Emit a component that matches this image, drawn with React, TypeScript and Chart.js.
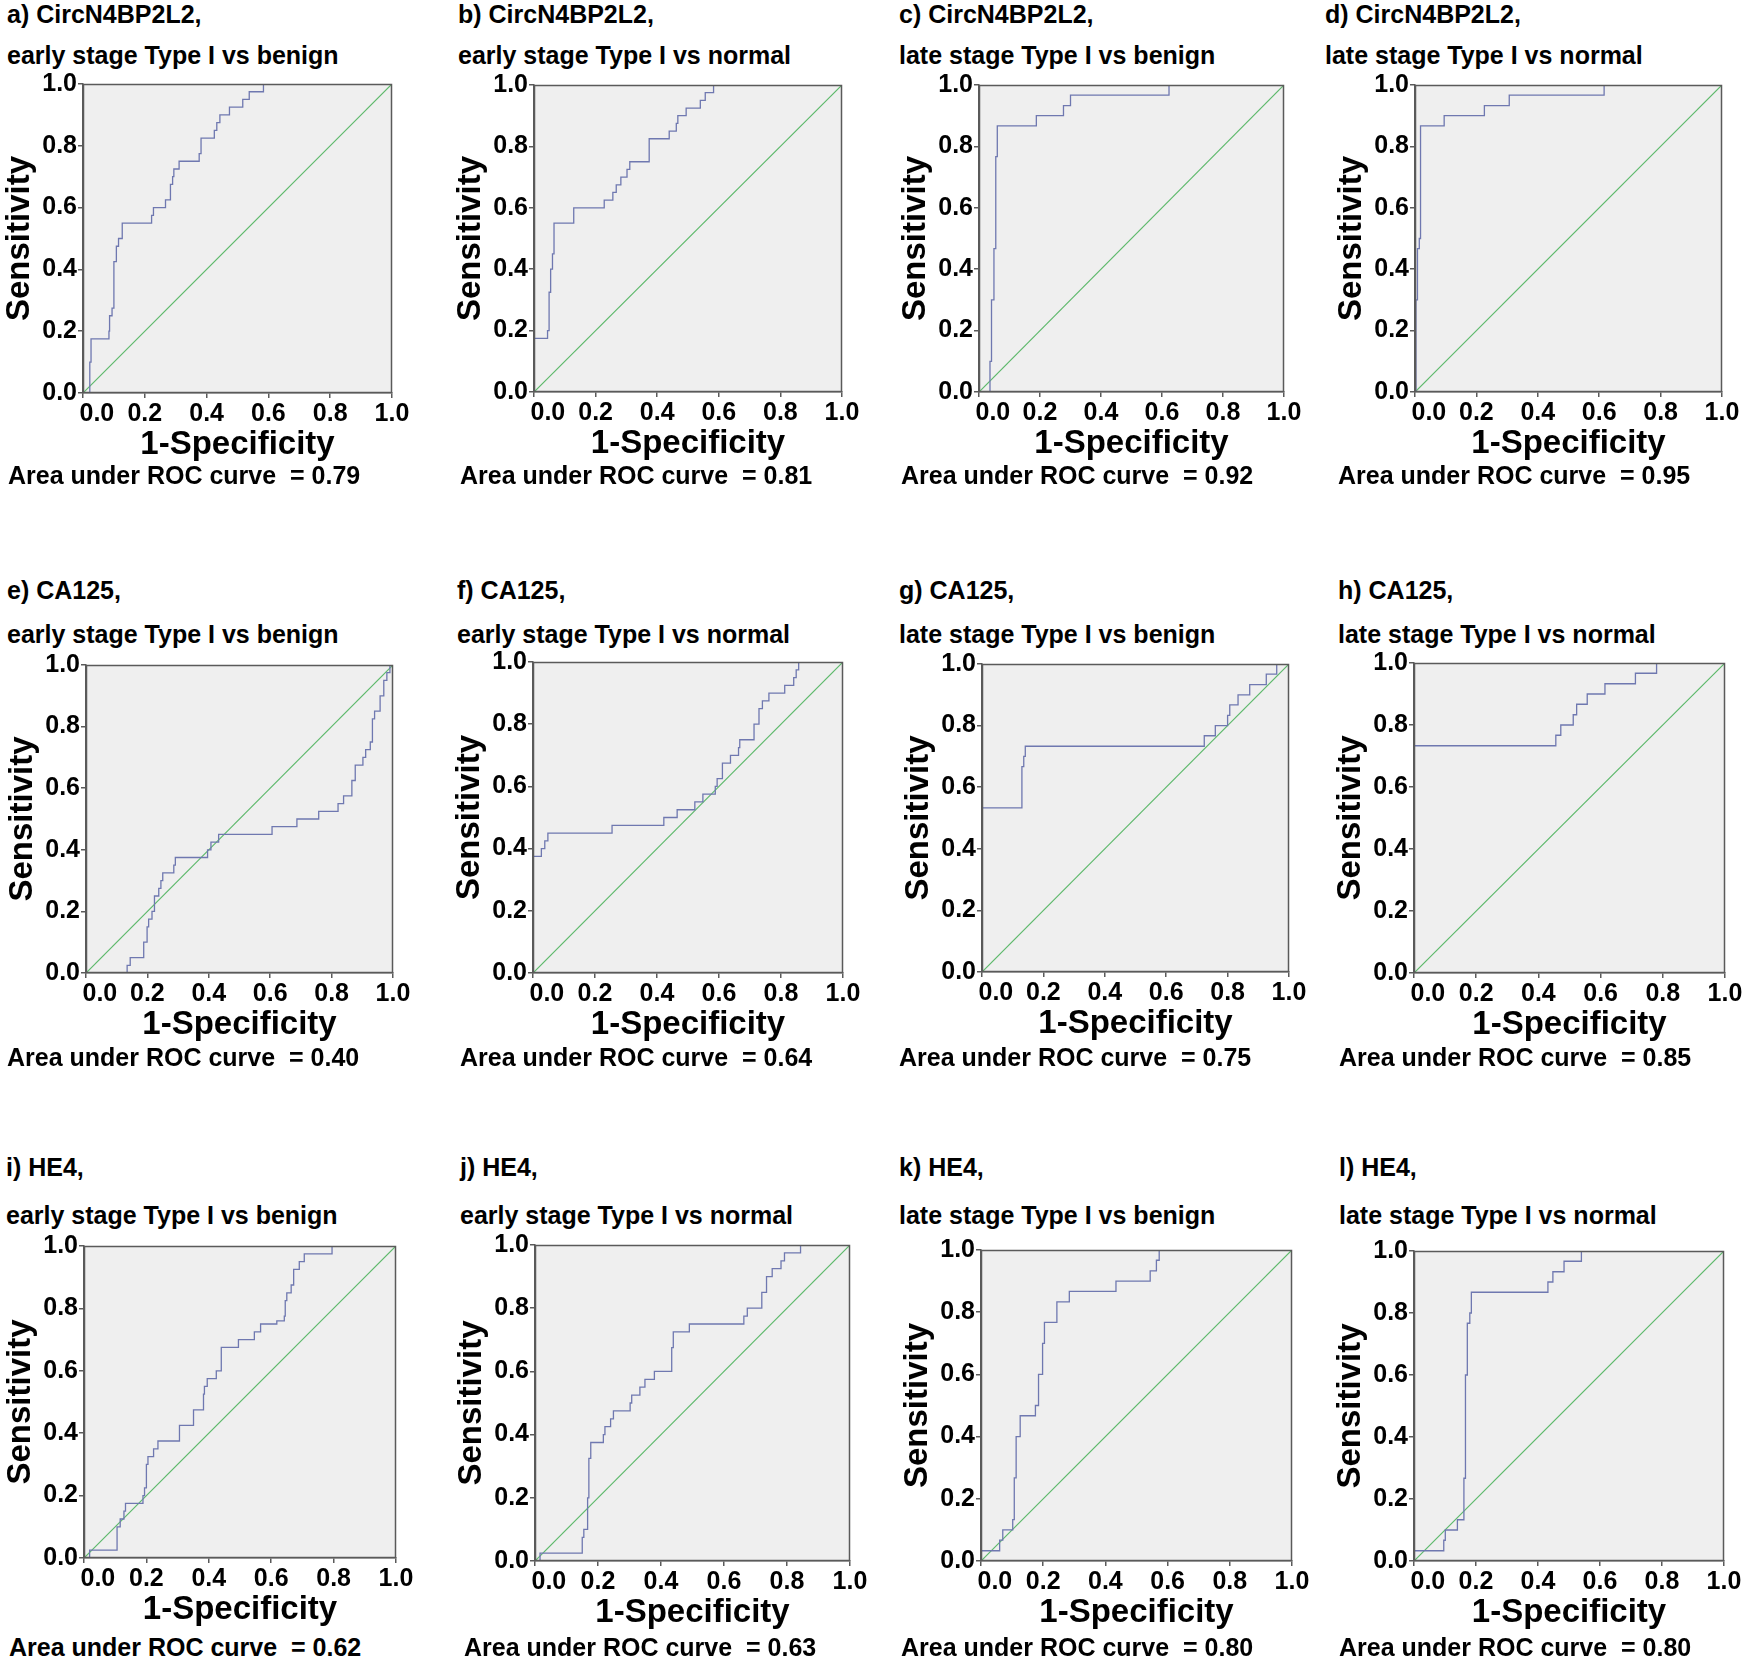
import React, { useEffect, useRef } from 'react';
import { Chart, registerables } from 'chart.js';

Chart.register(...registerables);

// ---------- DATA ----------
const panelLetters = ['a', 'b', 'c', 'd', 'e', 'f', 'g', 'h', 'i', 'j', 'k', 'l'];
const markers = [
  'CircN4BP2L2', 'CircN4BP2L2', 'CircN4BP2L2', 'CircN4BP2L2',
  'CA125', 'CA125', 'CA125', 'CA125',
  'HE4', 'HE4', 'HE4', 'HE4',
];
const comparisons = [
  'early stage Type I vs benign', 'early stage Type I vs normal', 'late stage Type I vs benign', 'late stage Type I vs normal',
  'early stage Type I vs benign', 'early stage Type I vs normal', 'late stage Type I vs benign', 'late stage Type I vs normal',
  'early stage Type I vs benign', 'early stage Type I vs normal', 'late stage Type I vs benign', 'late stage Type I vs normal',
];
const aucValues = ['0.79', '0.81', '0.92', '0.95', '0.40', '0.64', '0.75', '0.85', '0.62', '0.63', '0.80', '0.80'];
const tickLabels = ['0.0', '0.2', '0.4', '0.6', '0.8', '1.0'];
const xAxisTitle = '1-Specificity';
const yAxisTitle = 'Sensitivity';
const aucLabel = 'Area under ROC curve  = ';

// ROC curves: 1-specificity (x) at which sensitivity jumps to y
const aX = [0.022, 0.022, 0.026, 0.084, 0.086, 0.094, 0.1, 0.108, 0.115, 0.127, 0.222, 0.228, 0.267, 0.283, 0.29, 0.294, 0.311, 0.376, 0.382, 0.425, 0.433, 0.443, 0.474, 0.517, 0.538, 0.584, 1.0];
const aY = [0, 0.1, 0.175, 0.2, 0.25, 0.275, 0.425, 0.475, 0.5, 0.55, 0.575, 0.6, 0.625, 0.675, 0.7, 0.725, 0.75, 0.775, 0.825, 0.85, 0.875, 0.9, 0.925, 0.95, 0.975, 1.0, 1.0];

const bX = [0, 0, 0.044, 0.049, 0.054, 0.06, 0.065, 0.129, 0.228, 0.256, 0.267, 0.282, 0.302, 0.311, 0.374, 0.439, 0.462, 0.467, 0.494, 0.54, 0.556, 0.583, 1.0];
const bY = [0, 0.175, 0.2, 0.325, 0.4, 0.45, 0.55, 0.6, 0.625, 0.65, 0.675, 0.7, 0.725, 0.75, 0.825, 0.85, 0.875, 0.9, 0.925, 0.95, 0.975, 1.0, 1.0];

const cX = [0.036, 0.036, 0.041, 0.049, 0.055, 0.06, 0.188, 0.277, 0.3, 0.623, 1.0];
const cY = [0, 0.1, 0.3, 0.467, 0.767, 0.867, 0.9, 0.933, 0.967, 1.0, 1.0];

const dX = [0.003, 0.003, 0.008, 0.014, 0.018, 0.095, 0.226, 0.307, 0.616, 1.0];
const dY = [0, 0.3, 0.467, 0.5, 0.867, 0.9, 0.933, 0.967, 1.0, 1.0];

const eX = [0.134, 0.134, 0.144, 0.188, 0.199, 0.204, 0.215, 0.223, 0.237, 0.244, 0.25, 0.286, 0.291, 0.396, 0.407, 0.432, 0.606, 0.687, 0.758, 0.821, 0.839, 0.866, 0.877, 0.902, 0.911, 0.926, 0.933, 0.94, 0.958, 0.97, 0.98, 0.99, 1.0];
const eY = [0, 0.025, 0.05, 0.1, 0.15, 0.175, 0.2, 0.25, 0.275, 0.3, 0.325, 0.35, 0.375, 0.4, 0.425, 0.45, 0.475, 0.5, 0.525, 0.55, 0.575, 0.625, 0.675, 0.7, 0.725, 0.75, 0.825, 0.85, 0.9, 0.95, 0.975, 1.0, 1.0];

const fX = [0, 0, 0.027, 0.038, 0.048, 0.255, 0.422, 0.465, 0.522, 0.548, 0.588, 0.594, 0.611, 0.637, 0.663, 0.667, 0.713, 0.729, 0.74, 0.761, 0.812, 0.841, 0.849, 0.857, 1.0];
const fY = [0, 0.375, 0.4, 0.425, 0.45, 0.475, 0.5, 0.525, 0.55, 0.575, 0.6, 0.625, 0.675, 0.7, 0.725, 0.75, 0.8, 0.85, 0.875, 0.9, 0.925, 0.95, 0.975, 1.0, 1.0];

const gX = [0, 0, 0.13, 0.136, 0.141, 0.724, 0.76, 0.8, 0.807, 0.834, 0.872, 0.926, 0.96, 1.0];
const gY = [0, 0.533, 0.667, 0.7, 0.733, 0.767, 0.8, 0.833, 0.867, 0.9, 0.933, 0.967, 1.0, 1.0];

const hX = [0, 0, 0.456, 0.472, 0.512, 0.523, 0.557, 0.614, 0.712, 0.78, 1.0];
const hY = [0, 0.733, 0.767, 0.8, 0.833, 0.867, 0.9, 0.933, 0.967, 1.0, 1.0];

const iX = [0.018, 0.018, 0.106, 0.116, 0.128, 0.133, 0.189, 0.194, 0.2, 0.205, 0.223, 0.237, 0.306, 0.351, 0.383, 0.386, 0.395, 0.424, 0.44, 0.495, 0.546, 0.566, 0.618, 0.642, 0.645, 0.65, 0.664, 0.672, 0.69, 0.706, 0.795, 1.0];
const iY = [0, 0.025, 0.1, 0.125, 0.15, 0.175, 0.2, 0.225, 0.3, 0.325, 0.35, 0.375, 0.425, 0.475, 0.525, 0.55, 0.575, 0.6, 0.675, 0.7, 0.725, 0.75, 0.76, 0.775, 0.825, 0.85, 0.875, 0.925, 0.95, 0.975, 1.0, 1.0];

const jX = [0.016, 0.016, 0.15, 0.155, 0.167, 0.171, 0.177, 0.217, 0.222, 0.24, 0.249, 0.302, 0.307, 0.333, 0.349, 0.379, 0.434, 0.439, 0.49, 0.663, 0.674, 0.72, 0.735, 0.753, 0.781, 0.792, 0.843, 1.0];
const jY = [0, 0.025, 0.075, 0.1, 0.2, 0.325, 0.375, 0.4, 0.425, 0.45, 0.475, 0.5, 0.525, 0.55, 0.575, 0.6, 0.675, 0.725, 0.75, 0.775, 0.8, 0.85, 0.9, 0.925, 0.95, 0.975, 1.0, 1.0];

const kX = [0, 0, 0.06, 0.07, 0.102, 0.107, 0.113, 0.126, 0.175, 0.185, 0.198, 0.204, 0.244, 0.284, 0.434, 0.544, 0.564, 0.573, 1.0];
const kY = [0, 0.033, 0.067, 0.1, 0.133, 0.267, 0.4, 0.467, 0.5, 0.6, 0.7, 0.767, 0.833, 0.867, 0.9, 0.933, 0.967, 1.0, 1.0];

const lX = [0, 0, 0.096, 0.101, 0.14, 0.161, 0.166, 0.172, 0.18, 0.185, 0.432, 0.448, 0.484, 0.54, 1.0];
const lY = [0, 0.033, 0.067, 0.1, 0.133, 0.267, 0.6, 0.767, 0.8, 0.867, 0.9, 0.933, 0.967, 1.0, 1.0];

const diagX = [0, 1];
const diagY = [0, 1];

const curvesX = [aX, bX, cX, dX, eX, fX, gX, hX, iX, jX, kX, lX];
const curvesY = [aY, bY, cY, dY, eY, fY, gY, hY, iY, jY, kY, lY];

// ---------- LAYOUT / STYLE ----------
const PLOT_RECTS = [
  [83, 84, 309, 309], [534, 85, 308, 307], [979, 85, 305, 307], [1415, 85, 307, 307],
  [86, 665, 307, 308], [533, 662, 310, 311], [982, 664, 307, 308], [1414, 663, 311, 310],
  [84, 1246, 312, 312], [535, 1245, 315, 316], [981, 1250, 311, 311], [1414, 1251, 310, 310],
];
const TITLE_X = [7, 458, 899, 1325, 7, 457, 899, 1338, 6, 460, 899, 1339];
const AUC_X = [8, 460, 901, 1338, 7, 460, 899, 1339, 9, 464, 901, 1339];
const ROW_TEXT_Y = [
  { t1: 14, t2: 55, auc: 475 },
  { t1: 590, t2: 634, auc: 1057 },
  { t1: 1167, t2: 1215, auc: 1647 },
];

const FONT = '"Liberation Sans", Arial, Helvetica, sans-serif';
const CURVE_COLOR = '#6f78b0';
const DIAG_COLOR = '#5cb86a';
const BG_COLOR = '#efefef';
const AXIS_COLOR = '#5a5a5a';
const TEXT_COLOR = '#000000';

const Y_AXIS_W = 84;
const X_AXIS_H = 75;
const PAD_TOP = 16;
const PAD_RIGHT = 24;

const framePlugin = {
  id: 'rocFrame',
  beforeDraw(chart: any) {
    const { ctx, chartArea } = chart;
    ctx.save();
    ctx.fillStyle = BG_COLOR;
    ctx.fillRect(chartArea.left, chartArea.top, chartArea.right - chartArea.left, chartArea.bottom - chartArea.top);
    ctx.restore();
  },
  afterDraw(chart: any) {
    const { ctx, chartArea } = chart;
    ctx.save();
    ctx.strokeStyle = AXIS_COLOR;
    ctx.lineWidth = 1.5;
    ctx.strokeRect(
      Math.round(chartArea.left) + 0.5,
      Math.round(chartArea.top) + 0.5,
      Math.round(chartArea.right - chartArea.left) - 1,
      Math.round(chartArea.bottom - chartArea.top) - 1
    );
    ctx.restore();
  },
};

function RocPanel({ index }: { index: number }) {
  const ref = useRef<HTMLCanvasElement | null>(null);
  const [pl, pt, pw, ph] = PLOT_RECTS[index];
  const cw = pw + Y_AXIS_W + PAD_RIGHT;
  const chH = ph + PAD_TOP + X_AXIS_H;

  useEffect(() => {
    const xs = curvesX[index];
    const ys = curvesY[index];
    const tickFont = { family: FONT, size: 25, weight: 'bold' as const };
    const titleFont = { family: FONT, size: 33, weight: 'bold' as const };
    const labelFor = (v: number) => tickLabels[Math.round(Number(v) * 5)] ?? '';
    const chart = new Chart(ref.current as HTMLCanvasElement, {
      type: 'line',
      data: {
        datasets: [
          {
            data: xs.map((x, i) => ({ x, y: ys[i] })),
            stepped: 'before',
            borderColor: CURVE_COLOR,
            borderWidth: 1.3,
            pointRadius: 0,
            fill: false,
          },
          {
            data: diagX.map((x, i) => ({ x, y: diagY[i] })),
            borderColor: DIAG_COLOR,
            borderWidth: 1.2,
            pointRadius: 0,
            fill: false,
          },
        ],
      },
      options: {
        animation: false,
        responsive: false,
        maintainAspectRatio: false,
        devicePixelRatio: 1,
        layout: { padding: { top: PAD_TOP, right: PAD_RIGHT, bottom: 0, left: 0 } },
        plugins: { legend: { display: false }, tooltip: { enabled: false }, title: { display: false } },
        scales: {
          x: {
            type: 'linear',
            min: 0,
            max: 1,
            afterFit: (s: any) => { s.height = X_AXIS_H; },
            grid: { drawOnChartArea: false, drawTicks: true, tickLength: 5, color: AXIS_COLOR, lineWidth: 1.5 },
            border: { display: true, color: AXIS_COLOR, width: 1.5 },
            ticks: {
              stepSize: 0.2,
              padding: 1,
              maxRotation: 0,
              autoSkip: false,
              color: TEXT_COLOR,
              font: tickFont,
              callback: (v: any, i: number) => (i === 0 ? '    ' + labelFor(v) : labelFor(v)),
            },
            title: { display: true, text: xAxisTitle, color: TEXT_COLOR, font: titleFont, padding: { top: 0, bottom: 3 } },
          },
          y: {
            type: 'linear',
            min: 0,
            max: 1,
            afterFit: (s: any) => { s.width = Y_AXIS_W; },
            grid: { drawOnChartArea: false, drawTicks: true, tickLength: 5, color: AXIS_COLOR, lineWidth: 1.5 },
            border: { display: true, color: AXIS_COLOR, width: 1.5 },
            ticks: {
              stepSize: 0.2,
              padding: 1,
              autoSkip: false,
              color: TEXT_COLOR,
              font: tickFont,
              callback: (v: any) => labelFor(v),
            },
            title: { display: true, text: yAxisTitle, color: TEXT_COLOR, font: titleFont, padding: { top: 1, bottom: 0 } },
          },
        },
      },
      plugins: [framePlugin],
    } as any);
    return () => chart.destroy();
  }, [index]);

  return (
    <canvas
      ref={ref}
      width={cw}
      height={chH}
      style={{ position: 'absolute', left: pl - Y_AXIS_W, top: pt - PAD_TOP, width: cw, height: chH }}
    />
  );
}

const textStyle = (left: number, centerY: number): React.CSSProperties => ({
  position: 'absolute',
  left,
  top: centerY - 12,
  font: `bold 25px ${FONT}`,
  lineHeight: '25px',
  whiteSpace: 'pre',
  color: TEXT_COLOR,
});

export default function App() {
  return (
    <div
      style={{
        position: 'absolute',
        left: 0,
        top: 0,
        width: 1745,
        height: 1657,
        overflow: 'hidden',
        background: '#ffffff',
      }}
    >
      {panelLetters.map((letter, i) => {
        const row = ROW_TEXT_Y[Math.floor(i / 4)];
        return (
          <React.Fragment key={letter}>
            <div style={textStyle(TITLE_X[i], row.t1)}>{`${letter}) ${markers[i]},`}</div>
            <div style={textStyle(TITLE_X[i], row.t2)}>{comparisons[i]}</div>
            <RocPanel index={i} />
            <div style={textStyle(AUC_X[i], row.auc)}>{aucLabel + aucValues[i]}</div>
          </React.Fragment>
        );
      })}
    </div>
  );
}
